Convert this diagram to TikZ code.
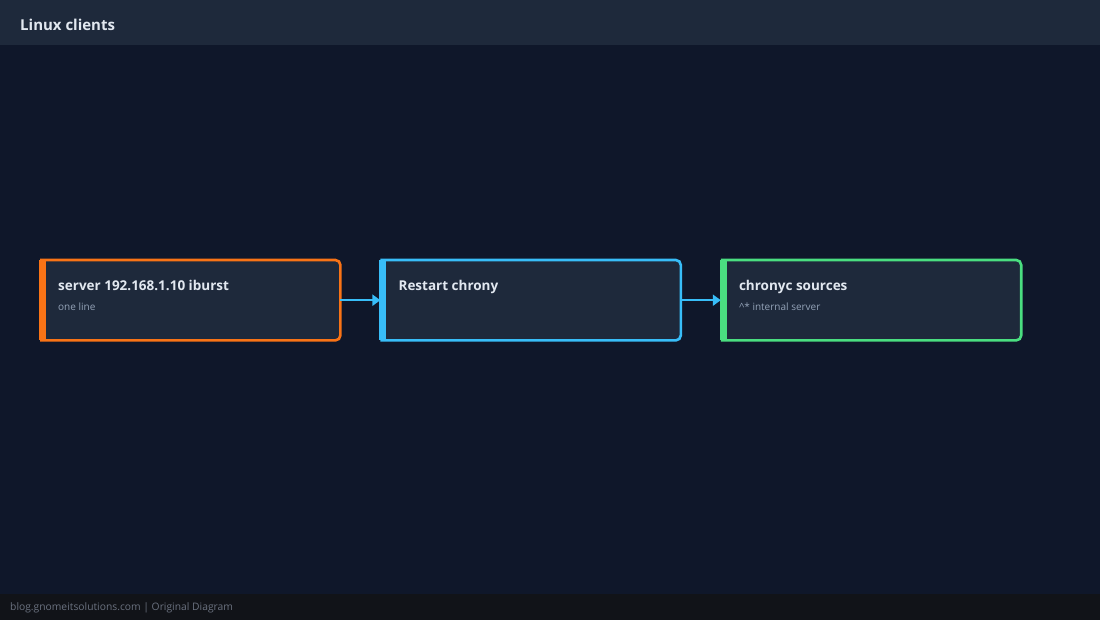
\documentclass[tikz,border=0pt]{standalone}
\usepackage{fontspec}
\setmainfont{Open Sans}
\usetikzlibrary{positioning,arrows.meta}
\definecolor{bgcol}{HTML}{0F172A}
\definecolor{headcol}{HTML}{1E293B}
\definecolor{boxcol}{HTML}{1E293B}
\definecolor{footcol}{HTML}{111318}
\definecolor{titlecol}{HTML}{E2E8F0}
\definecolor{subcol}{HTML}{94A3B8}
\definecolor{foottext}{HTML}{6B7280}
\definecolor{orangecol}{HTML}{F97316}
\definecolor{bluecol}{HTML}{38BDF8}
\definecolor{greencol}{HTML}{4ADE80}
\tikzset{
  stepbox/.style={minimum width=300pt,minimum height=80pt,fill=boxcol,inner sep=0pt},
  steptitle/.style={anchor=base west,inner sep=0pt,text=titlecol,font=\bfseries\fontsize{13.5}{16}\selectfont},
  stepnote/.style={anchor=base west,inner sep=0pt,text=subcol,font=\fontsize{10}{12}\selectfont},
  flow/.style={draw=bluecol,fill=bluecol,line width=2.2pt,-{Triangle[length=8pt,width=11pt,fill=bluecol]}}
}
% border of a step: thick bar on the left, round corners on the right
\newcommand{\stepedge}[2]{%
  \draw[#2,line width=2.6pt,rounded corners=5pt] (#1.north west) -- (#1.north east) -- (#1.south east) -- (#1.south west);
  \fill[#2] ([xshift=-1.3pt]#1.north west) rectangle ([xshift=6pt]#1.south west);
}
\begin{document}
\begin{tikzpicture}[x=1pt,y=-1pt]
		\fill[bgcol] (0,0) rectangle (1100,620);
		\useasboundingbox (0,0) rectangle (1100,620);
		\fill[headcol] (0,0) rectangle (1100,45);
		\fill[footcol] (0,594) rectangle (1100,620);
		\node[anchor=west,inner sep=0pt,text=titlecol,font=\bfseries\fontsize{15}{18}\selectfont] (title) at (20,25) {Linux clients};
		\node[anchor=west,inner sep=0pt,text=foottext,font=\fontsize{10.3}{12}\selectfont] (credit) at (10,607.5) {blog.gnomeitsolutions.com | Original Diagram};
		
		\node[stepbox,anchor=north west] (srv) at (40,260) {};
		\node[stepbox,right=40pt of srv] (rst) {};
		\node[stepbox,right=40pt of rst] (src) {};
		\stepedge{srv}{orangecol}
		\stepedge{rst}{bluecol}
		\stepedge{src}{greencol}
		
		\node[steptitle] (srv-t) at ([shift={(18,30.5)}]srv.north west) {server 192.168.1.10 iburst};
		\node[stepnote]  (srv-n) at ([shift={(18,50)}]srv.north west) {one line};
		\node[steptitle] (rst-t) at ([shift={(18,30.5)}]rst.north west) {Restart chrony};
		\node[steptitle] (src-t) at ([shift={(18,30.5)}]src.north west) {chronyc sources};
		\node[stepnote]  (src-n) at ([shift={(18,50)}]src.north west) {\^{}* internal server};
		
		\draw[flow] (srv) -- (rst);
		\draw[flow] (rst) -- (src);
\end{tikzpicture}
\end{document}
